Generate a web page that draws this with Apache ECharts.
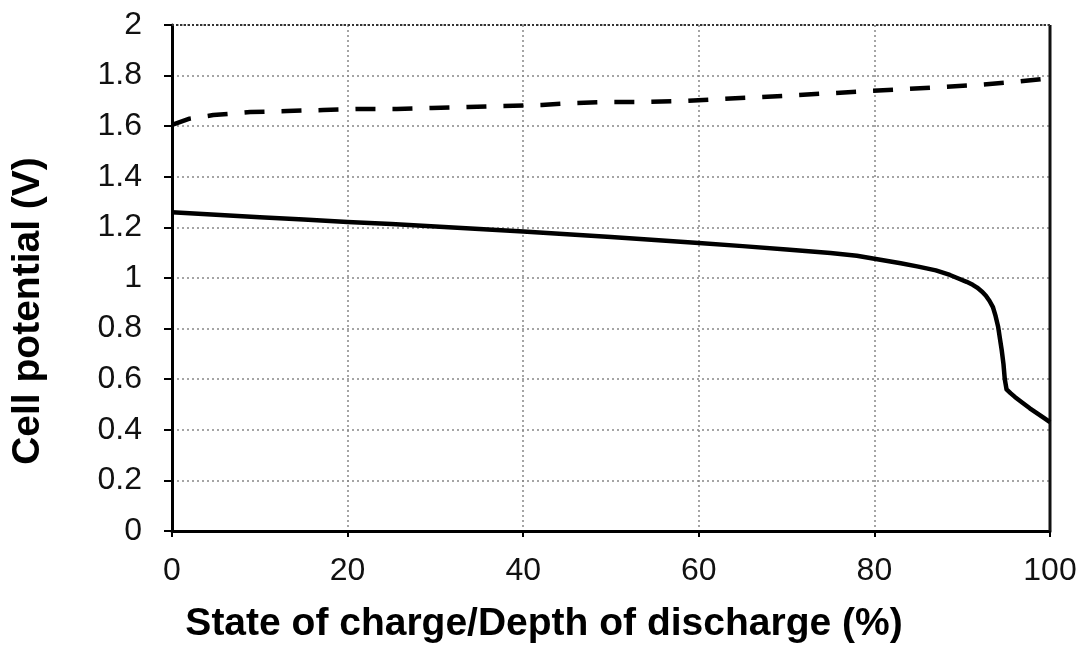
<!DOCTYPE html>
<html>
<head>
<meta charset="utf-8">
<script src="https://cdn.jsdelivr.net/npm/echarts@6/dist/echarts.min.js"></script>
<style>
html,body{margin:0;padding:0;background:#fff;}
#chart{width:1086px;height:660px;}
</style>
</head>
<body>
<div id="chart"></div>
<script>
// Charge curve (dashed) - state of charge (%) vs cell potential (V)
const chargeX = [0, 2, 4.7, 8.9, 13.1, 17.2, 21.4, 25.6, 29.6, 33.7, 37.7, 42.1, 46.1, 50.2, 54.4, 58.7, 62.8, 67, 71.2, 75.3, 79.5, 83.7, 87.7, 91.8, 96, 100];
const chargeY = [1.605, 1.63, 1.644, 1.656, 1.660, 1.664, 1.668, 1.668, 1.672, 1.676, 1.680, 1.684, 1.692, 1.696, 1.696, 1.700, 1.708, 1.715, 1.723, 1.731, 1.739, 1.747, 1.755, 1.763, 1.775, 1.79];
// Discharge curve (solid) - depth of discharge (%) vs cell potential (V)
const dischargeX = [0, 5, 10, 15, 20, 25, 30, 35, 40, 45, 50, 55, 60, 65, 70, 75, 78, 81, 83, 85, 87, 88.6, 89.5, 90.5, 91.2, 91.7, 92.3, 92.7, 93.1, 93.5, 93.8, 94.1, 94.3, 94.5, 94.7, 94.85, 95.05, 95.5, 96, 96.9, 97.7, 98.5, 99.3, 100];
const dischargeY = [1.26, 1.25, 1.24, 1.231, 1.221, 1.213, 1.204, 1.194, 1.184, 1.173, 1.162, 1.150, 1.138, 1.126, 1.113, 1.099, 1.088, 1.070, 1.058, 1.045, 1.030, 1.012, 0.999, 0.985, 0.973, 0.962, 0.945, 0.93, 0.91, 0.885, 0.85, 0.806, 0.76, 0.715, 0.66, 0.60, 0.56, 0.545, 0.53, 0.506, 0.485, 0.466, 0.447, 0.43];
const xTitle = 'State of charge/Depth of discharge (%)';
const yTitle = 'Cell potential (V)';

const pair = (xs, ys) => xs.map((x, i) => [x, ys[i]]);

const chart = echarts.init(document.getElementById('chart'));
const labelFont = {fontFamily: 'Liberation Sans, Arial, sans-serif', fontSize: 32, color: '#111'};
const nameFont = {fontFamily: 'Liberation Sans, Arial, sans-serif', fontSize: 39, fontWeight: 'bold', color: '#000'};
chart.setOption({
  animation: false,
  backgroundColor: '#fff',
  grid: {left: 172, right: 36, top: 25, bottom: 129},
  xAxis: {
    type: 'value', min: 0, max: 100, interval: 20,
    name: xTitle, nameLocation: 'middle', nameGap: 74,
    nameTextStyle: Object.assign({padding: [0, 134, 0, 0]}, nameFont),
    axisLine: {show: true, onZero: false, lineStyle: {color: '#000', width: 3}},
    axisTick: {show: true, length: 6, lineStyle: {color: '#000', width: 2}},
    axisLabel: Object.assign({margin: 24}, labelFont),
    splitLine: {show: true, lineStyle: {color: '#888', type: [2, 3], width: 1.5}}
  },
  yAxis: {
    type: 'value', min: 0, max: 2, interval: 0.2,
    name: yTitle, nameLocation: 'middle', nameGap: 124, nameRotate: 90,
    nameTextStyle: Object.assign({padding: [0, 66, 0, 0]}, nameFont),
    axisLine: {show: true, onZero: false, lineStyle: {color: '#000', width: 3}},
    axisTick: {show: true, length: 8, lineStyle: {color: '#000', width: 2}},
    axisLabel: Object.assign({margin: 30, formatter: v => String(Math.round(v * 10) / 10)}, labelFont),
    splitLine: {show: true, lineStyle: {color: '#888', type: [2, 3], width: 1.5}}
  },
  series: [
    {
      type: 'line', data: pair(chargeX, chargeY), showSymbol: false, smooth: false,
      lineStyle: {color: '#000', width: 4.5, type: [20, 17]}, z: 3
    },
    {
      type: 'line', data: pair(dischargeX, dischargeY), showSymbol: false, smooth: false,
      lineStyle: {color: '#000', width: 4.5, join: 'round'}, z: 3
    },
    {
      type: 'line', data: [[100, 0], [100, 2]], showSymbol: false, silent: true,
      lineStyle: {color: '#111', width: 3}, z: 2
    },
    {
      type: 'line', data: [[0, 2], [100, 2]], showSymbol: false, silent: true,
      lineStyle: {color: '#333', width: 2, type: [2, 2]}, z: 2
    }
  ]
});
</script>
</body>
</html>
